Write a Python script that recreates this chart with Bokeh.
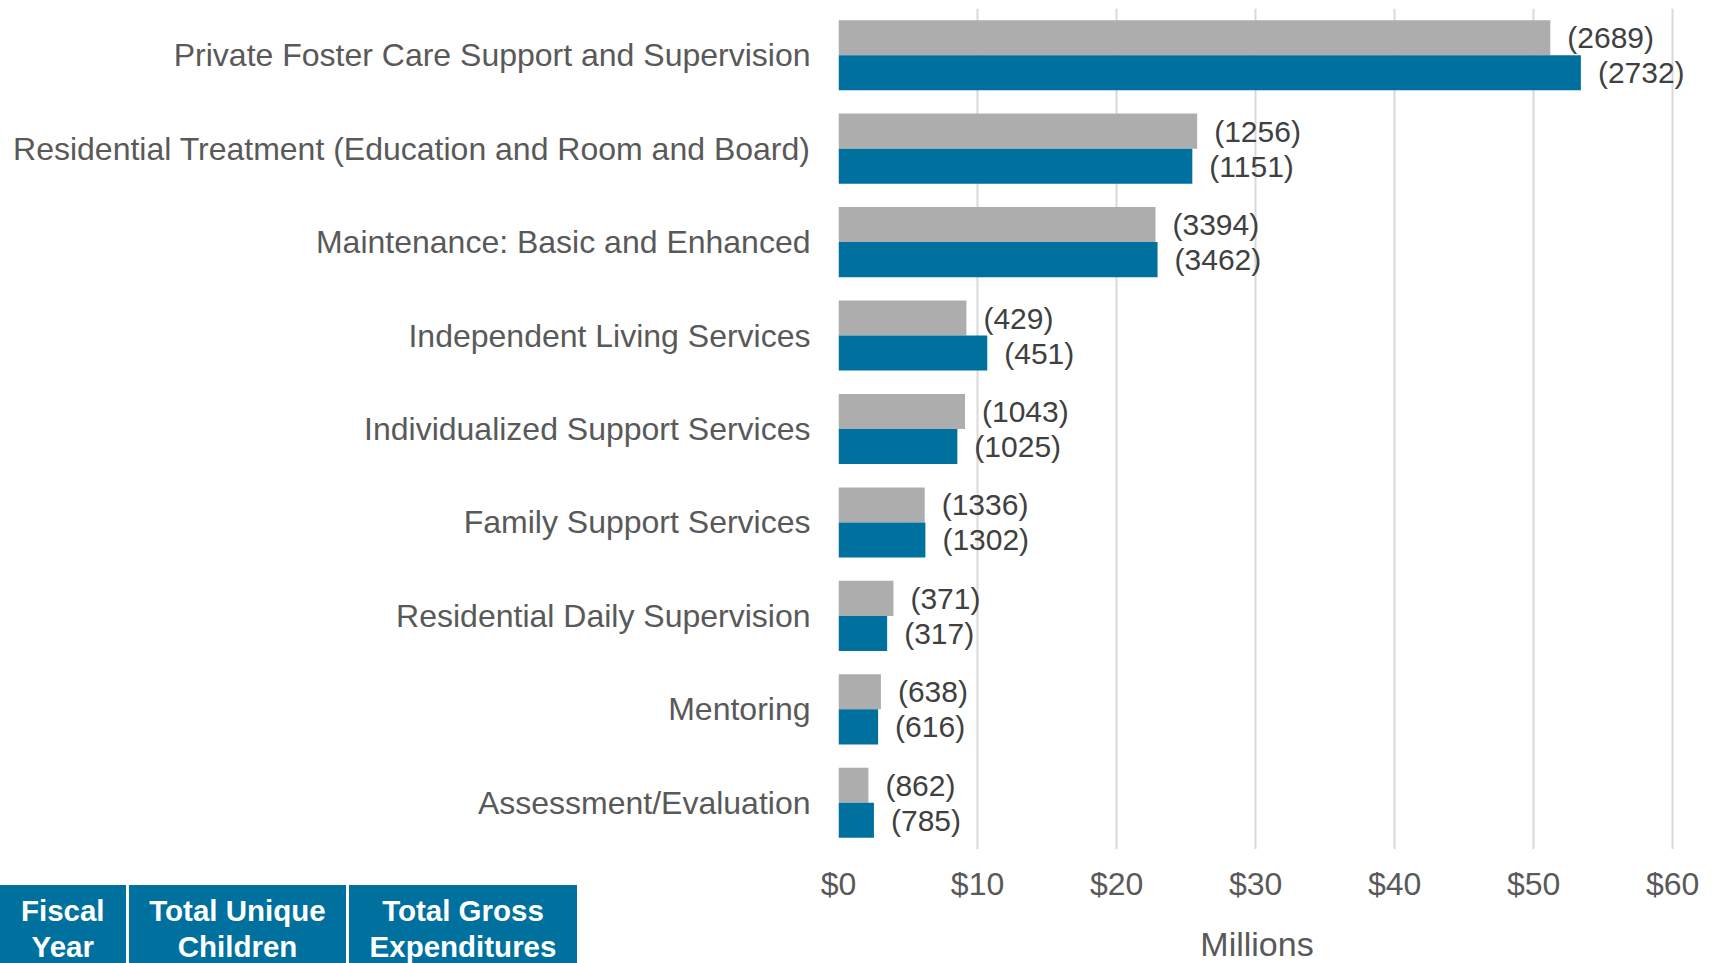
from bokeh.plotting import figure
from bokeh.layouts import column, row
from bokeh.models import (ColumnDataSource, FactorRange, Range1d, NumeralTickFormatter,
                          FixedTicker, Grid, Div)
from bokeh.core.properties import value
from bokeh.transform import dodge
from bokeh.embed import file_html
from bokeh.resources import INLINE

categories = ["Private Foster Care Support and Supervision",
              "Residential Treatment (Education and Room and Board)",
              "Maintenance: Basic and Enhanced",
              "Independent Living Services",
              "Individualized Support Services",
              "Family Support Services",
              "Residential Daily Supervision",
              "Mentoring",
              "Assessment/Evaluation"]
prev_expenditures = [51.2, 25.8, 22.8, 9.2, 9.1, 6.2, 3.95, 3.05, 2.15]
curr_expenditures = [53.4, 25.45, 22.95, 10.7, 8.55, 6.25, 3.5, 2.85, 2.55]
prev_children = [2689, 1256, 3394, 429, 1043, 1336, 371, 638, 862]
curr_children = [2732, 1151, 3462, 451, 1025, 1302, 317, 616, 785]
x_ticks = [0, 10, 20, 30, 40, 50, 60]
table_headers = [["Fiscal", "Year"], ["Total Unique", "Children"], ["Total Gross", "Expenditures"]]

GRAY = "#ADADAD"
BLUE = "#00719E"
LABEL = "#595959"
FONT = "Liberation Sans"

src = ColumnDataSource(dict(
    cat=categories,
    prev=prev_expenditures,
    curr=curr_expenditures,
    prev_lbl=["(%d)" % v for v in prev_children],
    curr_lbl=["(%d)" % v for v in curr_children],
))

# ---- main chart (bars, category axis, grid); same px/unit scale as the axis below ----
p = figure(width=1712, height=849, output_backend="svg", toolbar_location=None,
           y_range=FactorRange(*reversed(categories)), x_range=Range1d(0, 61.5),
           x_axis_location=None,
           min_border_left=838, min_border_right=19, min_border_top=8, min_border_bottom=0)
p.outline_line_color = None
p.xgrid.visible = False
p.ygrid.visible = False
p.add_layout(Grid(dimension=0, ticker=FixedTicker(ticks=x_ticks),
                  grid_line_color="#D9D9D9", grid_line_width=2))

BH = 0.375
p.hbar(y=dodge("cat", BH / 2, range=p.y_range), right="prev", left=0, height=BH, source=src,
       fill_color=GRAY, line_color=None)
p.hbar(y=dodge("cat", -BH / 2, range=p.y_range), right="curr", left=0, height=BH, source=src,
       fill_color=BLUE, line_color=None)

for col, off in (("prev_lbl", BH / 2), ("curr_lbl", -BH / 2)):
    p.text(x=col.split("_")[0], y=dodge("cat", off, range=p.y_range), text=col, source=src,
           x_offset=17, text_align="left", text_baseline="middle", text_font_size="30px",
           text_color="#404040", text_font=value(FONT))

p.yaxis.major_label_text_font = FONT
p.yaxis.major_label_text_font_size = "32px"
p.yaxis.major_label_text_color = LABEL
p.yaxis.major_label_standoff = 28
p.yaxis.major_tick_out = 0
p.yaxis.major_tick_in = 0
p.yaxis.axis_line_color = None
p.yaxis.major_tick_line_color = None
p.yaxis.minor_tick_line_color = None

# ---- header table (bottom-left) ----
cell_l = [0, 129, 349]
cell_w = [125.5, 217, 228]
cells_html = ""
for l, w, lines in zip(cell_l, cell_w, table_headers):
    cells_html += (
        '<div style="position:absolute;left:%spx;top:36px;width:%spx;height:78px;'
        'background:%s;box-sizing:border-box;padding-top:8px;text-align:center;">%s</div>'
        % (l, w, BLUE, "<br>".join(lines)))
table = Div(text=('<div style="position:relative;width:600px;height:114px;overflow:hidden;'
                  'font-family:\'%s\';font-weight:bold;font-size:29.5px;line-height:35.5px;'
                  'color:white;">%s</div>' % (FONT, cells_html)),
            width=600, height=114, margin=0)

# ---- x axis ----
a = figure(width=1112, height=114, output_backend="svg", toolbar_location=None,
           x_range=Range1d(0, 60.2), y_range=Range1d(0, 1), y_axis_location=None,
           min_border_left=238, min_border_right=37, min_border_top=0, min_border_bottom=113)
a.outline_line_color = None
a.xgrid.visible = False
a.ygrid.visible = False
a.xaxis.ticker = FixedTicker(ticks=x_ticks)
a.xaxis.formatter = NumeralTickFormatter(format="$0")
a.xaxis.axis_label = "Millions"
a.xaxis.axis_label_text_font = FONT
a.xaxis.axis_label_text_font_style = "normal"
a.xaxis.axis_label_text_font_size = "34px"
a.xaxis.axis_label_text_color = LABEL
a.xaxis.axis_label_text_line_height = 0.8
a.xaxis.axis_label_standoff = 20
a.xaxis.major_label_text_font = FONT
a.xaxis.major_label_text_font_size = "32px"
a.xaxis.major_label_text_color = LABEL
a.xaxis.major_label_text_line_height = 1.0
a.xaxis.major_label_standoff = 10
a.xaxis.axis_line_color = None
a.xaxis.major_tick_line_color = None
a.xaxis.minor_tick_line_color = None

layout = column(p, row(table, a))
open("out.html", "w").write(file_html(layout, INLINE))
